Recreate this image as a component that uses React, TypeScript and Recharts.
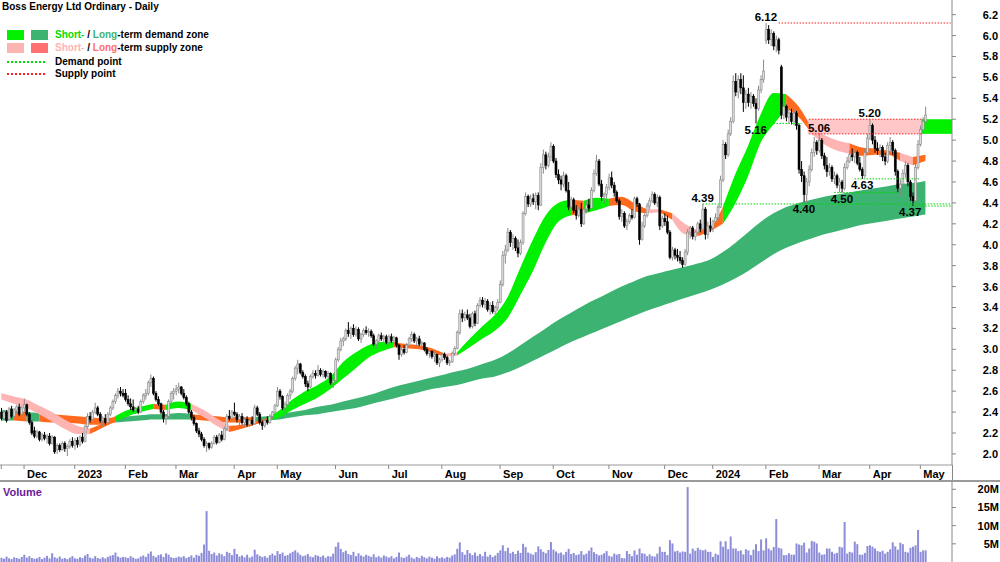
import React from "react";
import {
  ComposedChart,
  Bar,
  Area,
  XAxis,
  YAxis,
  ReferenceArea,
  ReferenceLine,
  ReferenceDot,
} from "recharts";

// open, high, low, close, volume (millions)
type Candle = [number, number, number, number, number];

const nov22: Candle[] = [
  [2.40, 2.44, 2.32, 2.34, 1.2], [2.34, 2.42, 2.32, 2.40, 0.9], [2.40, 2.42, 2.30, 2.32, 1.5],
  [2.33, 2.45, 2.32, 2.43, 1.0], [2.43, 2.46, 2.34, 2.36, 0.8], [2.36, 2.44, 2.35, 2.42, 1.3],
  [2.42, 2.47, 2.38, 2.45, 1.1], [2.45, 2.48, 2.36, 2.38, 0.9], [2.38, 2.46, 2.36, 2.44, 1.4],
];
const dec22: Candle[] = [
  [2.44, 2.53, 2.40, 2.47, 2.0], [2.47, 2.48, 2.36, 2.38, 1.2], [2.38, 2.40, 2.28, 2.30, 1.6],
  [2.30, 2.32, 2.18, 2.20, 1.1], [2.22, 2.26, 2.15, 2.17, 0.9], [2.17, 2.23, 2.15, 2.21, 1.0],
  [2.21, 2.22, 2.12, 2.14, 1.4], [2.14, 2.20, 2.12, 2.18, 0.8], [2.18, 2.21, 2.13, 2.15, 1.2],
  [2.15, 2.19, 2.10, 2.17, 1.7], [2.17, 2.20, 2.08, 2.10, 1.0], [2.10, 2.18, 2.09, 2.16, 2.4],
  [2.16, 2.17, 2.00, 2.02, 1.3], [2.04, 2.10, 2.00, 2.08, 1.0], [2.08, 2.10, 2.02, 2.04, 1.5],
  [2.04, 2.12, 2.03, 2.10, 0.9], [2.10, 2.12, 2.02, 2.05, 1.1], [2.05, 2.09, 1.98, 2.07, 0.8],
  [2.07, 2.14, 2.05, 2.12, 1.2], [2.12, 2.16, 2.06, 2.08, 1.6],
];
const jan23: Candle[] = [
  [2.08, 2.15, 2.04, 2.13, 1.0], [2.13, 2.16, 2.06, 2.09, 0.9], [2.09, 2.18, 2.07, 2.16, 1.3],
  [2.16, 2.20, 2.10, 2.12, 1.1], [2.12, 2.28, 2.11, 2.26, 1.8], [2.26, 2.39, 2.24, 2.36, 2.2],
  [2.36, 2.40, 2.30, 2.33, 1.2], [2.33, 2.42, 2.32, 2.40, 1.0], [2.40, 2.49, 2.38, 2.44, 1.6],
  [2.44, 2.46, 2.36, 2.38, 1.1], [2.38, 2.40, 2.30, 2.32, 0.9], [2.32, 2.36, 2.26, 2.34, 1.3],
  [2.34, 2.38, 2.28, 2.30, 1.0], [2.30, 2.40, 2.29, 2.38, 1.4], [2.38, 2.46, 2.36, 2.44, 1.7],
  [2.44, 2.52, 2.42, 2.50, 1.9], [2.50, 2.58, 2.48, 2.56, 2.6], [2.56, 2.63, 2.53, 2.60, 1.5],
  [2.60, 2.64, 2.55, 2.58, 1.2], [2.58, 2.62, 2.54, 2.56, 1.4],
];
const feb23: Candle[] = [
  [2.58, 2.62, 2.50, 2.52, 1.3], [2.52, 2.56, 2.46, 2.48, 1.1], [2.48, 2.53, 2.42, 2.45, 1.6],
  [2.45, 2.52, 2.40, 2.42, 1.2], [2.42, 2.45, 2.38, 2.43, 0.9], [2.43, 2.46, 2.38, 2.40, 1.0],
  [2.40, 2.52, 2.39, 2.50, 1.5], [2.50, 2.58, 2.48, 2.56, 1.8], [2.56, 2.62, 2.52, 2.58, 1.4],
  [2.58, 2.70, 2.56, 2.68, 2.3], [2.68, 2.76, 2.64, 2.72, 2.9], [2.72, 2.74, 2.56, 2.58, 1.7],
  [2.58, 2.60, 2.50, 2.52, 1.3], [2.52, 2.55, 2.46, 2.48, 1.9], [2.48, 2.49, 2.38, 2.40, 2.1],
  [2.40, 2.42, 2.30, 2.34, 1.4], [2.34, 2.38, 2.28, 2.36, 2.4], [2.36, 2.52, 2.35, 2.50, 2.0],
  [2.50, 2.60, 2.46, 2.58, 1.3], [2.58, 2.63, 2.52, 2.60, 1.1],
];
const mar23: Candle[] = [
  [2.60, 2.66, 2.56, 2.62, 1.2], [2.62, 2.68, 2.58, 2.64, 1.5], [2.64, 2.65, 2.56, 2.58, 1.3],
  [2.58, 2.62, 2.52, 2.54, 1.6], [2.54, 2.56, 2.46, 2.48, 1.1], [2.48, 2.50, 2.38, 2.40, 1.4],
  [2.40, 2.42, 2.32, 2.35, 1.8], [2.35, 2.37, 2.27, 2.29, 1.2], [2.29, 2.30, 2.20, 2.22, 2.0],
  [2.22, 2.25, 2.16, 2.19, 1.7], [2.19, 2.21, 2.12, 2.14, 2.5], [2.14, 2.16, 2.06, 2.08, 4.8],
  [2.08, 2.12, 2.02, 2.10, 14.0], [2.10, 2.11, 2.04, 2.06, 3.1], [2.06, 2.12, 2.05, 2.10, 2.2],
  [2.10, 2.18, 2.09, 2.16, 2.6], [2.16, 2.18, 2.09, 2.11, 1.8], [2.11, 2.20, 2.10, 2.18, 2.4],
  [2.18, 2.22, 2.12, 2.14, 2.1], [2.14, 2.26, 2.13, 2.24, 1.6], [2.24, 2.38, 2.22, 2.36, 2.8],
  [2.36, 2.42, 2.32, 2.34, 2.5], [2.34, 2.42, 2.33, 2.40, 1.9],
];
const apr23: Candle[] = [
  [2.40, 2.49, 2.36, 2.38, 3.6], [2.38, 2.40, 2.30, 2.33, 2.2], [2.33, 2.38, 2.27, 2.36, 1.5],
  [2.36, 2.39, 2.28, 2.30, 1.8], [2.30, 2.35, 2.26, 2.33, 1.3], [2.33, 2.36, 2.26, 2.28, 2.0],
  [2.28, 2.34, 2.26, 2.32, 1.2], [2.32, 2.36, 2.27, 2.29, 1.5], [2.29, 2.47, 2.28, 2.44, 3.4],
  [2.44, 2.46, 2.36, 2.38, 2.1], [2.38, 2.40, 2.28, 2.30, 1.7], [2.30, 2.32, 2.23, 2.27, 1.4],
  [2.27, 2.34, 2.25, 2.32, 1.6], [2.32, 2.36, 2.28, 2.30, 1.2], [2.30, 2.38, 2.29, 2.36, 1.9],
  [2.36, 2.41, 2.33, 2.40, 2.3], [2.40, 2.48, 2.38, 2.46, 1.8],
];
const may23: Candle[] = [
  [2.46, 2.64, 2.45, 2.60, 3.0], [2.60, 2.62, 2.52, 2.55, 2.2], [2.55, 2.56, 2.42, 2.44, 2.6],
  [2.44, 2.50, 2.40, 2.47, 1.7], [2.47, 2.58, 2.45, 2.56, 1.9], [2.56, 2.62, 2.52, 2.60, 2.4],
  [2.60, 2.74, 2.58, 2.72, 2.8], [2.72, 2.84, 2.70, 2.82, 3.2], [2.82, 2.90, 2.76, 2.86, 2.6],
  [2.86, 2.87, 2.76, 2.78, 2.0], [2.78, 2.80, 2.72, 2.74, 1.6], [2.74, 2.76, 2.64, 2.67, 1.8],
  [2.67, 2.70, 2.60, 2.64, 2.2], [2.64, 2.76, 2.63, 2.74, 1.5], [2.74, 2.80, 2.72, 2.77, 1.3],
  [2.77, 2.80, 2.72, 2.75, 1.9], [2.75, 2.85, 2.74, 2.80, 1.7], [2.80, 2.82, 2.74, 2.76, 1.4],
  [2.76, 2.81, 2.73, 2.79, 1.8], [2.79, 2.80, 2.72, 2.74, 1.2], [2.74, 2.79, 2.72, 2.77, 1.6],
  [2.77, 2.78, 2.66, 2.68, 1.5], [2.68, 2.72, 2.63, 2.70, 2.3],
];
const jun23: Candle[] = [
  [2.70, 2.92, 2.69, 2.90, 4.2], [2.90, 3.02, 2.88, 3.00, 5.4], [3.00, 3.11, 2.98, 3.08, 3.6],
  [3.08, 3.12, 3.03, 3.10, 2.7], [3.10, 3.20, 3.08, 3.18, 3.1], [3.18, 3.26, 3.12, 3.15, 2.2],
  [3.15, 3.22, 3.10, 3.20, 1.9], [3.20, 3.24, 3.12, 3.14, 2.8], [3.14, 3.22, 3.12, 3.19, 1.6],
  [3.19, 3.21, 3.08, 3.10, 2.4], [3.10, 3.16, 3.06, 3.14, 1.8], [3.14, 3.20, 3.12, 3.18, 1.5],
  [3.18, 3.22, 3.14, 3.16, 2.0], [3.16, 3.20, 3.12, 3.17, 1.7], [3.17, 3.19, 3.11, 3.13, 1.4],
  [3.13, 3.15, 3.03, 3.05, 2.1], [3.05, 3.10, 3.01, 3.08, 1.3], [3.08, 3.15, 3.06, 3.13, 1.6],
  [3.13, 3.16, 3.08, 3.10, 1.2], [3.10, 3.14, 3.06, 3.12, 1.8], [3.12, 3.14, 3.05, 3.07, 1.5],
];
const jul23: Candle[] = [
  [3.07, 3.14, 3.04, 3.12, 1.2], [3.12, 3.15, 3.06, 3.08, 1.6], [3.08, 3.13, 3.05, 3.11, 1.0],
  [3.11, 3.12, 3.02, 3.04, 1.4], [3.04, 3.05, 2.90, 2.95, 2.6], [2.95, 3.02, 2.93, 3.00, 1.3],
  [3.00, 3.04, 2.95, 2.97, 1.1], [2.97, 3.06, 2.96, 3.04, 1.5], [3.04, 3.12, 3.02, 3.10, 2.0],
  [3.10, 3.17, 3.07, 3.14, 1.2], [3.14, 3.16, 3.06, 3.08, 0.9], [3.08, 3.12, 3.03, 3.10, 1.4],
  [3.10, 3.13, 3.03, 3.05, 1.1], [3.05, 3.08, 3.00, 3.06, 1.7], [3.06, 3.07, 2.98, 3.00, 1.3],
  [3.00, 3.02, 2.94, 2.96, 1.0], [2.96, 3.00, 2.92, 2.98, 1.5], [2.98, 2.99, 2.91, 2.93, 1.2],
  [2.93, 2.97, 2.88, 2.95, 0.9], [2.95, 2.96, 2.85, 2.87, 1.6], [2.87, 2.92, 2.83, 2.90, 1.1],
];
const aug23: Candle[] = [
  [2.90, 2.97, 2.88, 2.95, 1.3], [2.95, 2.97, 2.90, 2.92, 1.0], [2.92, 2.94, 2.85, 2.87, 1.4],
  [2.87, 2.90, 2.84, 2.88, 1.2], [2.88, 2.98, 2.87, 2.96, 1.8], [2.96, 3.03, 2.94, 3.01, 2.1],
  [3.01, 3.18, 3.00, 3.16, 3.6], [3.16, 3.38, 3.14, 3.34, 5.4], [3.34, 3.38, 3.26, 3.30, 2.7],
  [3.30, 3.36, 3.27, 3.33, 2.0], [3.33, 3.38, 3.28, 3.30, 3.3], [3.30, 3.34, 3.20, 3.22, 2.4],
  [3.22, 3.36, 3.20, 3.34, 1.9], [3.34, 3.37, 3.22, 3.25, 2.6], [3.25, 3.44, 3.24, 3.42, 1.7],
  [3.42, 3.50, 3.40, 3.47, 2.2], [3.47, 3.50, 3.40, 3.43, 1.6], [3.43, 3.49, 3.39, 3.46, 2.8],
  [3.46, 3.48, 3.36, 3.38, 1.5], [3.38, 3.45, 3.33, 3.42, 2.0], [3.42, 3.46, 3.34, 3.36, 1.4],
  [3.36, 3.42, 3.33, 3.40, 1.8], [3.40, 3.48, 3.37, 3.45, 2.5],
];
const sep23: Candle[] = [
  [3.45, 3.66, 3.44, 3.62, 3.2], [3.62, 3.94, 3.60, 3.90, 4.6], [3.90, 4.00, 3.82, 3.95, 3.0],
  [3.95, 4.16, 3.93, 4.12, 3.9], [4.12, 4.14, 3.98, 4.02, 2.4], [4.02, 4.10, 3.95, 4.06, 2.8],
  [4.06, 4.08, 3.94, 3.97, 2.2], [3.97, 4.05, 3.88, 3.92, 3.1], [3.92, 4.05, 3.90, 4.02, 2.5],
  [4.02, 4.32, 4.00, 4.30, 5.0], [4.30, 4.50, 4.28, 4.46, 4.1], [4.46, 4.48, 4.36, 4.39, 2.6],
  [4.39, 4.48, 4.36, 4.44, 2.3], [4.44, 4.49, 4.38, 4.41, 2.0], [4.41, 4.50, 4.34, 4.47, 2.7],
  [4.47, 4.50, 4.33, 4.38, 4.3], [4.38, 4.78, 4.37, 4.74, 3.5], [4.74, 4.91, 4.68, 4.86, 2.8],
  [4.86, 4.89, 4.72, 4.76, 2.4], [4.76, 4.88, 4.74, 4.84, 3.3], [4.84, 4.98, 4.80, 4.94, 5.5],
];
const oct23: Candle[] = [
  [4.94, 4.96, 4.78, 4.80, 3.4], [4.80, 4.83, 4.64, 4.67, 2.9], [4.67, 4.72, 4.58, 4.62, 2.4],
  [4.62, 4.66, 4.52, 4.58, 2.6], [4.58, 4.70, 4.55, 4.66, 2.0], [4.66, 4.68, 4.50, 4.52, 2.8],
  [4.52, 4.60, 4.33, 4.36, 3.6], [4.36, 4.46, 4.34, 4.43, 2.2], [4.43, 4.45, 4.30, 4.33, 2.5],
  [4.33, 4.38, 4.24, 4.28, 1.9], [4.28, 4.36, 4.26, 4.34, 2.1], [4.34, 4.40, 4.17, 4.20, 3.0],
  [4.20, 4.36, 4.19, 4.34, 2.0], [4.34, 4.42, 4.30, 4.38, 2.3], [4.38, 4.44, 4.32, 4.35, 3.1],
  [4.35, 4.55, 4.34, 4.52, 4.0], [4.52, 4.72, 4.50, 4.68, 2.7], [4.68, 4.86, 4.66, 4.80, 2.2],
  [4.80, 4.82, 4.56, 4.58, 1.8], [4.58, 4.62, 4.42, 4.46, 2.0], [4.46, 4.50, 4.40, 4.48, 2.4],
  [4.48, 4.58, 4.44, 4.55, 3.0],
];
const nov23: Candle[] = [
  [4.55, 4.68, 4.52, 4.64, 1.7], [4.64, 4.70, 4.54, 4.57, 1.5], [4.57, 4.60, 4.46, 4.50, 2.3],
  [4.50, 4.52, 4.40, 4.42, 2.0], [4.42, 4.44, 4.24, 4.27, 2.2], [4.27, 4.34, 4.22, 4.30, 1.1],
  [4.30, 4.32, 4.16, 4.18, 1.0], [4.18, 4.25, 4.14, 4.22, 3.0], [4.22, 4.30, 4.20, 4.28, 2.2],
  [4.28, 4.34, 4.24, 4.26, 1.6], [4.26, 4.46, 4.25, 4.44, 3.2], [4.44, 4.46, 4.36, 4.39, 2.0],
  [4.39, 4.40, 4.00, 4.05, 3.7], [4.05, 4.22, 4.04, 4.18, 2.4], [4.18, 4.30, 4.16, 4.28, 2.3],
  [4.28, 4.40, 4.26, 4.37, 1.6], [4.37, 4.45, 4.34, 4.42, 2.1], [4.42, 4.51, 4.40, 4.48, 1.6],
  [4.48, 4.50, 4.38, 4.40, 1.5], [4.40, 4.48, 4.36, 4.45, 2.3], [4.45, 4.47, 4.14, 4.18, 4.2],
  [4.18, 4.28, 4.16, 4.25, 2.8],
];
const dec23: Candle[] = [
  [4.25, 4.30, 4.18, 4.22, 2.8], [4.22, 4.28, 4.10, 4.12, 1.9], [4.12, 4.14, 3.86, 3.88, 6.0],
  [3.88, 3.98, 3.85, 3.95, 5.1], [3.95, 3.97, 3.86, 3.90, 2.9], [3.90, 3.96, 3.84, 3.88, 3.1],
  [3.88, 3.94, 3.82, 3.85, 2.6], [3.85, 3.88, 3.78, 3.81, 2.9], [3.81, 3.96, 3.80, 3.93, 2.8],
  [3.93, 4.15, 3.90, 4.12, 20.6], [4.12, 4.18, 4.06, 4.16, 2.3], [4.16, 4.18, 4.05, 4.08, 3.7],
  [4.08, 4.14, 4.04, 4.12, 3.1], [4.12, 4.22, 4.10, 4.20, 3.9], [4.20, 4.24, 4.12, 4.15, 3.4],
  [4.15, 4.39, 4.14, 4.34, 3.2], [4.34, 4.36, 4.05, 4.10, 3.4], [4.10, 4.22, 4.06, 4.18, 2.8],
  [4.18, 4.26, 4.12, 4.16, 2.8],
];
const jan24: Candle[] = [
  [4.16, 4.24, 4.12, 4.22, 1.4], [4.22, 4.30, 4.18, 4.26, 2.3], [4.26, 4.38, 4.24, 4.36, 2.0],
  [4.36, 4.66, 4.35, 4.62, 5.7], [4.62, 5.00, 4.60, 4.96, 4.2], [4.96, 4.98, 4.82, 4.86, 5.7],
  [4.86, 5.10, 4.84, 5.06, 3.5], [5.06, 5.22, 5.04, 5.18, 7.0], [5.18, 5.62, 5.16, 5.56, 3.7],
  [5.56, 5.64, 5.42, 5.46, 3.7], [5.46, 5.62, 5.40, 5.58, 3.0], [5.58, 5.64, 5.44, 5.50, 3.2],
  [5.50, 5.62, 5.27, 5.36, 2.1], [5.36, 5.48, 5.30, 5.44, 3.5], [5.44, 5.50, 5.32, 5.36, 3.2],
  [5.36, 5.46, 5.30, 5.42, 1.9], [5.42, 5.44, 5.32, 5.35, 3.4], [5.35, 5.40, 5.16, 5.30, 4.9],
  [5.30, 5.52, 5.28, 5.48, 3.0], [5.48, 5.62, 5.45, 5.58, 6.2], [5.58, 5.77, 5.55, 5.66, 3.2],
];
const feb24: Candle[] = [
  [5.95, 6.12, 5.92, 6.06, 6.5], [6.06, 6.10, 5.92, 5.96, 3.7], [5.96, 6.06, 5.90, 6.02, 3.2],
  [6.02, 6.04, 5.86, 5.90, 4.1], [5.90, 6.00, 5.84, 5.96, 11.8], [5.96, 5.98, 5.82, 5.86, 3.9],
  [5.70, 5.72, 5.20, 5.24, 3.7], [5.24, 5.36, 5.20, 5.32, 1.9], [5.32, 5.34, 5.18, 5.22, 1.9],
  [5.22, 5.30, 5.16, 5.26, 2.4], [5.26, 5.30, 5.15, 5.18, 2.0], [5.18, 5.30, 5.14, 5.26, 2.0],
  [5.26, 5.28, 5.10, 5.14, 5.1], [5.14, 5.16, 4.68, 4.72, 4.8], [4.72, 4.80, 4.60, 4.66, 4.6],
  [4.66, 4.70, 4.41, 4.48, 5.3], [4.48, 4.64, 4.40, 4.60, 2.6], [4.60, 4.76, 4.56, 4.72, 3.7],
  [4.72, 4.92, 4.70, 4.88, 5.8], [4.88, 5.03, 4.84, 4.98, 5.6], [4.98, 5.00, 4.86, 4.90, 5.1],
];
const mar24: Candle[] = [
  [4.90, 5.07, 4.88, 5.00, 2.6], [5.00, 5.02, 4.82, 4.85, 2.0], [4.85, 4.88, 4.72, 4.76, 2.1],
  [4.76, 4.84, 4.65, 4.70, 3.7], [4.70, 4.78, 4.66, 4.74, 3.7], [4.74, 4.76, 4.60, 4.63, 2.8],
  [4.63, 4.70, 4.58, 4.66, 2.3], [4.66, 4.68, 4.54, 4.57, 2.5], [4.57, 4.64, 4.50, 4.60, 4.2],
  [4.60, 4.62, 4.50, 4.54, 4.0], [4.54, 4.78, 4.52, 4.74, 11.0], [4.74, 4.84, 4.72, 4.80, 2.3],
  [4.80, 4.90, 4.78, 4.86, 2.8], [4.86, 4.92, 4.80, 4.84, 2.6], [4.84, 4.90, 4.78, 4.88, 5.6],
  [4.88, 4.90, 4.76, 4.78, 4.9], [4.78, 4.84, 4.70, 4.72, 2.0], [4.72, 4.74, 4.63, 4.66, 2.0],
  [4.66, 4.92, 4.64, 4.88, 2.5], [4.88, 5.06, 4.86, 5.02, 4.4],
];
const apr24: Candle[] = [
  [5.02, 5.20, 5.00, 5.14, 4.6], [5.14, 5.16, 4.96, 5.00, 4.2], [5.00, 5.04, 4.88, 4.92, 3.7],
  [4.92, 4.98, 4.86, 4.90, 3.0], [4.90, 4.96, 4.84, 4.93, 2.8], [4.93, 4.95, 4.80, 4.84, 3.1],
  [4.84, 4.88, 4.76, 4.80, 2.3], [4.80, 4.98, 4.78, 4.95, 2.8], [4.95, 5.03, 4.88, 4.98, 3.5],
  [4.98, 5.00, 4.86, 4.90, 5.4], [4.90, 4.92, 4.66, 4.70, 4.3], [4.70, 4.72, 4.50, 4.54, 3.4],
  [4.54, 4.62, 4.46, 4.58, 5.3], [4.58, 4.72, 4.56, 4.68, 4.9], [4.68, 4.80, 4.64, 4.76, 2.8],
  [4.76, 4.78, 4.56, 4.60, 2.6], [4.60, 4.62, 4.42, 4.46, 3.9], [4.46, 4.50, 4.37, 4.42, 4.2],
  [4.42, 4.80, 4.40, 4.74, 4.6], [4.74, 5.00, 4.72, 4.96, 8.8],
];
const may24: Candle[] = [
  [4.96, 5.14, 4.94, 5.10, 2.8], [5.10, 5.22, 5.06, 5.18, 3.2], [5.18, 5.32, 5.14, 5.24, 3.2],
];

const months = [
  { label: "", rows: nov22 },
  { label: "Dec", rows: dec22 },
  { label: "2023", rows: jan23 },
  { label: "Feb", rows: feb23 },
  { label: "Mar", rows: mar23 },
  { label: "Apr", rows: apr23 },
  { label: "May", rows: may23 },
  { label: "Jun", rows: jun23 },
  { label: "Jul", rows: jul23 },
  { label: "Aug", rows: aug23 },
  { label: "Sep", rows: sep23 },
  { label: "Oct", rows: oct23 },
  { label: "Nov", rows: nov23 },
  { label: "Dec", rows: dec23 },
  { label: "2024", rows: jan24 },
  { label: "Feb", rows: feb24 },
  { label: "Mar", rows: mar24 },
  { label: "Apr", rows: apr24 },
  { label: "May", rows: may24 },
];
const EMPTY_SLOTS = 10;

// zone bands, one sample every 5 trading days
const bandStep = 5;
const shortHi = [
  2.58, 2.55, 2.52, 2.46, 2.40, 2.33, 2.27, 2.24, 2.29, 2.36, 2.42, 2.45, 2.48, 2.47, 2.50,
  2.48, 2.42, 2.34, 2.27, 2.28, 2.31, 2.34, 2.42, 2.52, 2.60, 2.66, 2.74, 2.88, 2.97, 3.04,
  3.07, 3.07, 3.05, 3.04, 3.01, 2.96, 2.97, 3.10, 3.22, 3.33, 3.50, 3.78, 4.05, 4.28, 4.40,
  4.43, 4.42, 4.45, 4.44, 4.46, 4.40, 4.34, 4.34, 4.30, 4.20, 4.14, 4.17, 4.36, 4.68, 4.95,
  5.25, 5.45, 5.44, 5.32, 5.12, 5.05, 5.00, 4.97, 4.93, 4.92, 4.90, 4.88, 4.84, 4.86,
];
const shortLo = [
  2.52, 2.48, 2.44, 2.38, 2.31, 2.24, 2.19, 2.19, 2.25, 2.31, 2.36, 2.40, 2.43, 2.42, 2.44,
  2.42, 2.35, 2.27, 2.21, 2.24, 2.28, 2.31, 2.35, 2.42, 2.48, 2.54, 2.62, 2.72, 2.82, 2.92,
  2.98, 3.02, 3.01, 3.00, 2.97, 2.93, 2.94, 3.02, 3.10, 3.18, 3.30, 3.52, 3.75, 4.02, 4.22,
  4.28, 4.30, 4.33, 4.37, 4.38, 4.32, 4.30, 4.31, 4.24, 4.10, 4.08, 4.13, 4.20, 4.40, 4.66,
  4.98, 5.15, 5.30, 5.22, 5.06, 4.96, 4.90, 4.87, 4.85, 4.86, 4.86, 4.80, 4.76, 4.80,
];
const longHi = [
  2.42, 2.41, 2.40, 2.39, 2.38, 2.37, 2.36, 2.35, 2.34, 2.35, 2.36, 2.37, 2.38, 2.38, 2.39,
  2.38, 2.37, 2.36, 2.35, 2.35, 2.35, 2.36, 2.38, 2.40, 2.42, 2.45, 2.47, 2.50, 2.53, 2.56,
  2.60, 2.64, 2.67, 2.70, 2.73, 2.76, 2.79, 2.82, 2.86, 2.90, 2.96, 3.04, 3.12, 3.20, 3.28,
  3.35, 3.42, 3.48, 3.54, 3.60, 3.65, 3.70, 3.73, 3.76, 3.79, 3.82, 3.86, 3.93, 4.02, 4.12,
  4.22, 4.30, 4.36, 4.40, 4.43, 4.46, 4.48, 4.50, 4.52, 4.54, 4.56, 4.58, 4.59, 4.61,
];
const longLo = [
  2.32, 2.32, 2.31, 2.31, 2.30, 2.30, 2.29, 2.28, 2.28, 2.30, 2.31, 2.32, 2.33, 2.33, 2.33,
  2.33, 2.32, 2.31, 2.30, 2.30, 2.31, 2.32, 2.33, 2.35, 2.37, 2.38, 2.40, 2.42, 2.44, 2.47,
  2.50, 2.53, 2.56, 2.59, 2.62, 2.64, 2.66, 2.69, 2.72, 2.74, 2.78, 2.83, 2.89, 2.95, 3.01,
  3.07, 3.12, 3.17, 3.22, 3.27, 3.32, 3.37, 3.41, 3.45, 3.49, 3.53, 3.57, 3.62, 3.68, 3.75,
  3.83, 3.91, 3.97, 4.02, 4.06, 4.10, 4.13, 4.16, 4.19, 4.21, 4.23, 4.25, 4.27, 4.29,
];
// colour of each interval between samples: g = demand, p = short supply, o = supply (orange)
const shortZone = (
  "ppppppp" + "oo" + "ggg" + "o" + "gg" + "ppp" + "ooo" + "gggggggggg" + "oooo" + "p" +
  "ggggggggg" + "o" + "gg" + "ooo" + "p" + "o" + "pp" + "oo" + "ggggg" + "oo" + "ppp" +
  "ooo" + "o" + "p" + "o"
).split("");
const longZone = ("g" + "o" + "g" + "ooooo" + "o" + "gggggg" + "ooooo" + "g".repeat(53)).split("");

const SHORT_COLORS: Record<string, string> = { g: "#00f000", p: "#ffb4b4", o: "#ff6a1f" };
const LONG_COLORS: Record<string, string> = { g: "#3cb371", o: "#ff6a1f" };

// demand / supply points
const levelLabels = [
  { i: 302, p: 6.12, pos: "top" },
  { i: 298, p: 5.16, pos: "bottom" },
  { i: 323, p: 5.06, pos: "top" },
  { i: 343, p: 5.2, pos: "top" },
  { i: 277, p: 4.39, pos: "top" },
  { i: 317, p: 4.4, pos: "bottom" },
  { i: 332, p: 4.5, pos: "bottom" },
  { i: 340, p: 4.63, pos: "bottom" },
  { i: 359, p: 4.37, pos: "bottom" },
];
const supplyLines = [
  { from: 307, to: 375, p: 6.12 },
  { from: 319, to: 364, p: 5.2 },
  { from: 319, to: 364, p: 5.06 },
];
const demandLines = [
  { from: 305, to: 316, p: 5.16 },
  { from: 277, to: 375, p: 4.39 },
  { from: 329, to: 355, p: 4.5 },
  { from: 337, to: 363, p: 4.63 },
  { from: 359, to: 375, p: 4.37 },
];
const supplyZone = { from: 319, to: 364, lo: 5.06, hi: 5.2 };
const demandZone = { from: 364, to: 375, lo: 5.06, hi: 5.2 };

const priceTicks = [2.0, 2.2, 2.4, 2.6, 2.8, 3.0, 3.2, 3.4, 3.6, 3.8, 4.0, 4.2, 4.4, 4.6, 4.8, 5.0, 5.2, 5.4, 5.6, 5.8, 6.0, 6.2];
const volumeTicks = [5e6, 10e6, 15e6, 20e6];

type Row = { [k: string]: any };
const rows: Row[] = [];
const monthLabelAt = new Map<number, string>();
months.forEach((m) => {
  monthLabelAt.set(rows.length, m.label);
  m.rows.forEach(([o, h, l, c, v]) => {
    rows.push({ i: rows.length, o, h, l, c, vol: v * 1e6 });
  });
});
for (let k = 0; k < EMPTY_SLOTS; k++) rows.push({ i: rows.length });

function buildSegments(zone: string[], hi: number[], lo: number[], prefix: string) {
  const segs: { key: string; z: string }[] = [];
  let start = 0;
  for (let k = 1; k <= zone.length; k++) {
    if (k === zone.length || zone[k] !== zone[start]) {
      const key = `${prefix}${segs.length}`;
      segs.push({ key, z: zone[start] });
      for (let j = start; j <= k; j++) rows[j * bandStep][key] = [lo[j], hi[j]];
      start = k;
    }
  }
  return segs;
}
const longSegs = buildSegments(longZone, longHi, longLo, "lb");
const shortSegs = buildSegments(shortZone, shortHi, shortLo, "sb");

const FONT = "'Liberation Sans', Arial, sans-serif";

const CandleShape = (props: any) => {
  const { x, y, width, height, payload } = props;
  if (!payload || payload.h == null) return null;
  const top = Math.min(y, y + height);
  const span = Math.abs(height);
  const ppu = payload.h > payload.l ? span / (payload.h - payload.l) : 0;
  const up = payload.c >= payload.o;
  const bodyTop = top + (payload.h - Math.max(payload.o, payload.c)) * ppu;
  const bodyH = Math.max(1, Math.abs(payload.c - payload.o) * ppu);
  const cx = x + width / 2;
  const col = up ? "#8a8a8a" : "#000";
  return (
    <g>
      <line x1={cx} x2={cx} y1={top} y2={top + span} stroke={col} strokeWidth={1} />
      <rect x={cx - 1} y={bodyTop} width={2} height={bodyH} fill={up ? "#dcdcdc" : "#000"} stroke={col} strokeWidth={0.6} />
    </g>
  );
};

const MonthTick = (props: any) => {
  const { x, y, payload } = props;
  const label = monthLabelAt.get(payload.value);
  if (label === undefined) return <g />;
  return (
    <g>
      <line x1={x} x2={x} y1={y} y2={y + 4} stroke="#888" />
      {label ? (
        <text x={x + 3} y={y + 13} fontSize={11} fontWeight="bold" fontFamily={FONT} fill="#000">
          {label}
        </text>
      ) : null}
    </g>
  );
};

const PriceTick = (props: any) => {
  const { x, y, payload } = props;
  return (
    <text x={x + 40} y={y + 4} textAnchor="end" fontSize={11} fontWeight="bold" fontFamily={FONT} fill="#000">
      {Number(payload.value).toFixed(1)}
    </text>
  );
};

const VolumeTick = (props: any) => {
  const { x, y, payload } = props;
  return (
    <text x={x + 41} y={y + 4} textAnchor="end" fontSize={11} fontWeight="bold" fontFamily={FONT} fill="#000">
      {`${payload.value / 1e6}M`}
    </text>
  );
};

const legendText: React.CSSProperties = {
  position: "absolute",
  left: 55,
  fontSize: 10,
  fontWeight: "bold",
  fontFamily: FONT,
  lineHeight: "12px",
  whiteSpace: "nowrap",
};

export default function App() {
  return (
    <div style={{ position: "absolute", left: 0, top: 0, width: 1000, height: 562, background: "#fff", overflow: "hidden" }}>
      <ComposedChart width={1000} height={482} data={rows} margin={{ top: 0, right: 0, left: 0, bottom: 0 }} barCategoryGap={0}>
        <XAxis
          dataKey="i"
          type="category"
          height={17}
          interval={0}
          tickLine={false}
          tickSize={0}
          tickMargin={0}
          axisLine={{ stroke: "#999" }}
          tick={<MonthTick />}
        />
        <YAxis
          orientation="right"
          width={48}
          domain={[1.894, 6.34]}
          allowDataOverflow
          ticks={priceTicks}
          interval={0}
          tickSize={4}
          tickMargin={2}
          axisLine={{ stroke: "#888" }}
          tickLine={{ stroke: "#888" }}
          tick={<PriceTick />}
        />
        {longSegs.map((s) => (
          <Area key={s.key} dataKey={s.key} type="monotone" stroke="none" fill={LONG_COLORS[s.z]} fillOpacity={1} connectNulls dot={false} activeDot={false} isAnimationActive={false} />
        ))}
        {shortSegs.map((s) => (
          <Area key={s.key} dataKey={s.key} type="monotone" stroke="none" fill={SHORT_COLORS[s.z]} fillOpacity={1} connectNulls dot={false} activeDot={false} isAnimationActive={false} />
        ))}
        <ReferenceArea x1={supplyZone.from} x2={supplyZone.to} y1={supplyZone.lo} y2={supplyZone.hi} fill="#ffb4b4" fillOpacity={0.75} stroke="none" />
        <ReferenceArea x1={demandZone.from} x2={demandZone.to} y1={demandZone.lo} y2={demandZone.hi} fill="#00f000" fillOpacity={1} stroke="none" />
        {supplyLines.map((l, k) => (
          <ReferenceLine key={`s${k}`} segment={[{ x: l.from, y: l.p }, { x: l.to, y: l.p }]} stroke="#ff2020" strokeDasharray="1.5 1.5" />
        ))}
        {demandLines.map((l, k) => (
          <ReferenceLine key={`d${k}`} segment={[{ x: l.from, y: l.p }, { x: l.to, y: l.p }]} stroke="#00d800" strokeDasharray="1.5 1.5" />
        ))}
        <Bar
          dataKey={(d: Row) => (d.h == null ? null : [d.l, d.h])}
          shape={CandleShape}
          isAnimationActive={false}
        />
        {levelLabels.map((m, k) => (
          <ReferenceDot
            key={`lv${k}`}
            x={m.i}
            y={m.p}
            r={0}
            fill="none"
            stroke="none"
            label={{ value: m.p.toFixed(2), position: m.pos as any, offset: 2, fill: "#000", fontSize: 11.5, fontWeight: "bold", fontFamily: FONT }}
          />
        ))}
      </ComposedChart>

      <div style={{ position: "absolute", left: 951.5, top: 465, width: 1, height: 17, background: "#888" }} />
      <div style={{ position: "absolute", left: 0, top: 480, width: 1000, height: 2, background: "#9a9a9a" }} />

      <div style={{ position: "absolute", left: 0, top: 482 }}>
        <ComposedChart width={1000} height={80} data={rows} margin={{ top: 0, right: 0, left: 0, bottom: 0 }} barCategoryGap="20%">
          <XAxis dataKey="i" type="category" hide />
          <YAxis
            orientation="right"
            width={48}
            domain={[0, 22e6]}
            allowDataOverflow
            ticks={volumeTicks}
            interval={0}
            tickSize={4}
            tickMargin={2}
            axisLine={{ stroke: "#888" }}
            tickLine={{ stroke: "#888" }}
            tick={<VolumeTick />}
          />
          <Bar dataKey="vol" fill="#8c8cd8" isAnimationActive={false} />
        </ComposedChart>
      </div>

      <div style={{ position: "absolute", left: 3, top: 486, fontSize: 11, fontWeight: "bold", fontFamily: FONT, color: "#6a1b9a", lineHeight: "12px" }}>
        Volume
      </div>

      <div style={{ position: "absolute", left: 2, top: 1, fontSize: 10, fontWeight: "bold", fontFamily: FONT, color: "#000", lineHeight: "12px", whiteSpace: "nowrap" }}>
        Boss Energy Ltd Ordinary - Daily
      </div>

      <div style={{ position: "absolute", left: 7, top: 30, width: 17, height: 10, background: "#00f000" }} />
      <div style={{ position: "absolute", left: 31, top: 30, width: 17, height: 10, background: "#3cb371" }} />
      <div style={{ ...legendText, top: 29 }}>
        <span style={{ color: "#00dd00" }}>Short-</span> / <span style={{ color: "#3cb371" }}>Long</span>-term demand zone
      </div>
      <div style={{ position: "absolute", left: 7, top: 43, width: 17, height: 10, background: "#ffb4b4" }} />
      <div style={{ position: "absolute", left: 31, top: 43, width: 17, height: 10, background: "#ff7070" }} />
      <div style={{ ...legendText, top: 42 }}>
        <span style={{ color: "#ffb4b4" }}>Short-</span> / <span style={{ color: "#ff7070" }}>Long</span>-term supply zone
      </div>
      <div style={{ position: "absolute", left: 7, top: 61, width: 38, height: 0, borderTop: "2px dotted #00e000" }} />
      <div style={{ ...legendText, top: 56 }}>Demand point</div>
      <div style={{ position: "absolute", left: 7, top: 73, width: 38, height: 0, borderTop: "2px dotted #ff2020" }} />
      <div style={{ ...legendText, top: 68 }}>Supply point</div>
    </div>
  );
}
